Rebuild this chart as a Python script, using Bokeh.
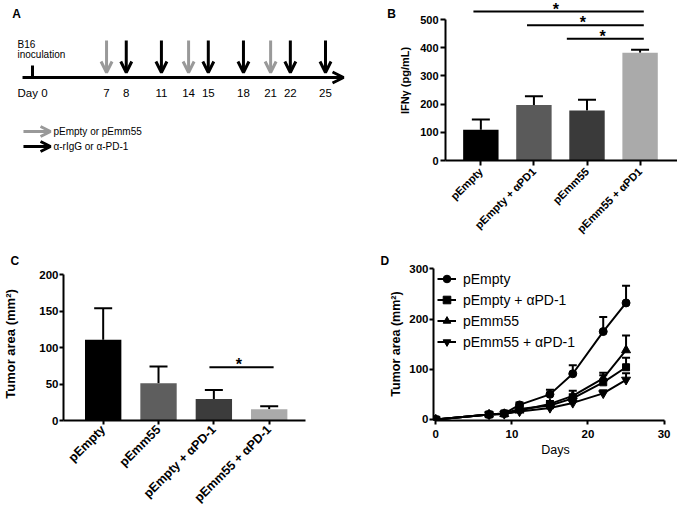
import math
from bokeh.plotting import figure
from bokeh.models import (ColumnDataSource, Range1d, FixedTicker, Whisker, TeeHead,
                          Label, Arrow, OpenHead, Legend, LegendItem)
from bokeh.layouts import column, row
from bokeh.embed import file_html
from bokeh.resources import INLINE
from bokeh.core.properties import value

FONT = "Liberation Sans"

# ---------------- Panel A: treatment schedule ----------------
a_days_vector = [7, 14, 21]                 # pEmpty or pEmm55
a_days_antibody = [8, 11, 15, 18, 22, 25]   # α-rIgG or α-PD-1
a_day_zero_label = "Day 0"
a_legend_text = ["pEmpty or pEmm55", "α-rIgG or α-PD-1"]
a_colors = ["#999999", "#000000"]

# ---------------- Panel B: IFNγ ----------------
b_groups = ["pEmpty", "pEmpty + αPD1", "pEmm55", "pEmm55 + αPD1"]
b_mean = [109, 197, 177, 382]
b_upper = [145, 228, 215, 393]
b_colors = ["#000000", "#5a5a5a", "#3a3a3a", "#aaaaaa"]
b_sig_start = [-0.14, 0.87, 1.62]
b_sig_end = [3.07, 3.07, 3.07]
b_sig_y = [528, 480, 432]
b_yticks = [0, 100, 200, 300, 400, 500]

# ---------------- Panel C: tumor area bars ----------------
c_groups = ["pEmpty", "pEmm55", "pEmpty + αPD-1", "pEmm55 + αPD-1"]
c_mean = [111, 51, 29.5, 15.5]
c_upper = [154, 74, 42, 19.5]
c_colors = ["#000000", "#5e5e5e", "#3c3c3c", "#aaaaaa"]
c_sig_start = [1.92]
c_sig_end = [3.08]
c_sig_y = [73]
c_yticks = [0, 50, 100, 150, 200]

# ---------------- Panel D: growth curves ----------------
d_days = [0, 7, 9, 11, 15, 18, 22, 25]
d_names = ["pEmpty", "pEmpty + αPD-1", "pEmm55", "pEmm55 + αPD-1"]
d_mean = [
    [0, 10, 12, 29, 50, 91, 175, 232],
    [0, 10, 12, 21, 28, 42, 74, 104],
    [0, 10, 11, 18, 31, 47, 82, 138],
    [0, 10, 11, 16, 23, 33, 52, 79],
]
d_upper = [
    [0, 11, 14, 34, 59, 108, 204, 266],
    [0, 11, 13, 25, 33, 50, 88, 123],
    [0, 11, 13, 21, 37, 57, 93, 167],
    [0, 11, 12, 18, 27, 38, 58, 92],
]
d_markers = ["circle", "square", "triangle", "inverted_triangle"]
d_sizes = [8, 7, 9, 9]
d_xticks = [0, 10, 20, 30]
d_yticks = [0, 100, 200, 300]


def base_fig(w, h, xr, yr, **kw):
    p = figure(width=w, height=h, x_range=xr, y_range=yr, output_backend="svg",
               toolbar_location=None, outline_line_color=None,
               background_fill_color="white", border_fill_color="white", **kw)
    p.grid.visible = False
    return p


def style_axis(ax, tick_size, label_size, tick_out=5, standoff=3, label_standoff=8,
               label_bold=True):
    ax.axis_line_width = 2
    ax.axis_line_color = "black"
    ax.major_tick_line_width = 2
    ax.major_tick_in = 0
    ax.major_tick_out = tick_out
    ax.minor_tick_line_color = None
    ax.major_label_text_font = FONT
    ax.major_label_text_font_style = "bold"
    ax.major_label_text_font_size = tick_size
    ax.major_label_text_color = "black"
    ax.major_label_standoff = standoff
    ax.axis_label_text_font = FONT
    ax.axis_label_text_font_style = "bold" if label_bold else "normal"
    ax.axis_label_text_font_size = label_size
    ax.axis_label_text_color = "black"
    ax.axis_label_standoff = label_standoff


def stars(p, starts, ends, ys, dy):
    for s, e, yv in zip(starts, ends, ys):
        p.add_layout(Label(x=(s + e) / 2 - 0.05, y=yv + dy, text="*", text_align="center",
                           text_baseline="middle", text_font=FONT,
                           text_font_style="bold", text_font_size="16px",
                           text_color="black"))


def panel_title(p, txt, offset):
    p.title.text = txt
    p.title.align = "left"
    p.title.offset = offset
    p.title.standoff = 0
    p.title.text_font = FONT
    p.title.text_font_size = "12px"
    p.title.text_font_style = "bold"
    p.title.text_color = "black"


# ======== A (frame aligned with B's frame: 0..160 px) ========
A_X0, A_PX = 28.0, 11.72          # px position of day 0, px per day
A_W = 396
A_SHIFT = 4.0 / A_PX              # +-4 px separation between paired arrows
pa = base_fig(A_W, 250, Range1d(-A_X0 / A_PX, (A_W - A_X0) / A_PX), Range1d(160, 0),
              min_border_left=0, min_border_right=0, min_border_top=0,
              min_border_bottom=90, x_axis_location=None, y_axis_location=None)
pa.extra_x_ranges = {
    "vec": Range1d(-A_X0 / A_PX + A_SHIFT, (A_W - A_X0) / A_PX + A_SHIFT),
    "ab": Range1d(-A_X0 / A_PX - A_SHIFT, (A_W - A_X0) / A_PX - A_SHIFT),
}
pa.add_layout(Arrow(x_start=-0.51, y_start=77, x_end=26.88, y_end=77, line_width=3,
                    end=OpenHead(size=11, line_width=3)))
pa.segment(x0=[0], y0=[65], x1=[0], y1=[77], line_width=3, line_color="black",
           x_range_name="ab")
pa.text(x=[0], y=[92], text=[a_day_zero_label], text_align="center",
        text_baseline="middle", text_font=value(FONT), text_font_size="11.5px",
        text_color="black", x_range_name="ab")
for days, col, rng in [(a_days_vector, a_colors[0], "vec"),
                       (a_days_antibody, a_colors[1], "ab")]:
    src = ColumnDataSource(dict(x=days, y0=[40] * len(days), y1=[72] * len(days),
                                lab=[str(d) for d in days], ly=[92] * len(days)))
    pa.add_layout(Arrow(source=src, x_start="x", y_start="y0", x_end="x", y_end="y1",
                        line_width=3, line_color=col, x_range_name=rng,
                        end=OpenHead(size=11, line_width=3, line_color=col)))
    pa.text(x="x", y="ly", text="lab", source=src, text_align="center",
            text_baseline="middle", text_font=value(FONT), text_font_size="11.5px",
            text_color="black", x_range_name=rng)
pa.text(x=[-0.94, -0.94], y=[43.5, 53.5], text=["B16", "inoculation"],
        text_align="left", text_baseline="middle", text_font=value(FONT),
        text_font_size="10px", text_color="black")
for i, (txt, col) in enumerate(zip(a_legend_text, a_colors)):
    yy = 131 + 15 * i
    pa.add_layout(Arrow(x_start=-0.43, y_start=yy, x_end=1.88, y_end=yy, line_width=3,
                        line_color=col, end=OpenHead(size=10, line_width=3, line_color=col)))
    pa.text(x=[2.13], y=[yy], text=[txt], text_align="left", text_baseline="middle",
            text_font=value(FONT), text_font_size="10px", text_color="black")
# panel letters "A" and "B" (B sits in the gap left of panel B's axis)
pa.text(x=[(16 - A_X0) / A_PX, (391 - A_X0) / A_PX], y=[13, 13], text=["A", "B"],
        text_align="center", text_baseline="middle", text_font=value(FONT),
        text_font_size="12px", text_font_style="bold", text_color="black")

# ======== B ========
pb = base_fig(677 - A_W, 250, Range1d(-0.666, 3.705), Range1d(0, 567.4),
              min_border_left=48, min_border_right=0, min_border_top=0,
              min_border_bottom=90)
xb = list(range(len(b_groups)))
srcb = ColumnDataSource(dict(x=xb, top=b_mean, upper=b_upper, color=b_colors))
pb.vbar(x="x", top="top", width=0.667, fill_color="color", line_color=None, source=srcb)
pb.add_layout(Whisker(source=srcb, base="x", lower="top", upper="upper",
                      dimension="height", line_width=2, line_color="black",
                      upper_head=TeeHead(size=18, line_width=2, line_color="black"),
                      lower_head=None))
pb.segment(x0=b_sig_start, x1=b_sig_end, y0=b_sig_y, y1=b_sig_y, line_width=2,
           line_color="black")
stars(pb, b_sig_start, b_sig_end, b_sig_y, 9)
pb.yaxis.ticker = FixedTicker(ticks=b_yticks)
pb.yaxis.bounds = (0, 500)
pb.yaxis.axis_label = "IFNγ (pg/mL)"
style_axis(pb.yaxis[0], "11px", "11px", tick_out=5, standoff=2, label_standoff=6)
pb.xaxis.ticker = FixedTicker(ticks=xb)
pb.xaxis.major_label_overrides = {i: g for i, g in enumerate(b_groups)}
pb.xaxis.major_label_orientation = math.pi / 4
style_axis(pb.xaxis[0], "11px", "11px", tick_out=5, standoff=4)

# ======== C (frame 267..421 px, aligned with D) ========
pc = base_fig(340, 262, Range1d(-0.717, 3.656), Range1d(0, 210),
              min_border_left=61, min_border_right=35, min_border_top=17,
              min_border_bottom=91)
panel_title(pc, "C", -53)
xc = list(range(len(c_groups)))
srcc = ColumnDataSource(dict(x=xc, top=c_mean, upper=c_upper, color=c_colors))
pc.vbar(x="x", top="top", width=0.657, fill_color="color", line_color=None, source=srcc)
pc.add_layout(Whisker(source=srcc, base="x", lower="top", upper="upper",
                      dimension="height", line_width=2, line_color="black",
                      upper_head=TeeHead(size=18, line_width=2, line_color="black"),
                      lower_head=None))
pc.segment(x0=c_sig_start, x1=c_sig_end, y0=c_sig_y, y1=c_sig_y, line_width=2,
           line_color="black")
stars(pc, c_sig_start, c_sig_end, c_sig_y, 3.4)
pc.yaxis.ticker = FixedTicker(ticks=c_yticks)
pc.yaxis.bounds = (0, 200)
pc.yaxis.axis_label = "Tumor area (mm²)"
style_axis(pc.yaxis[0], "11.5px", "13px", tick_out=4, standoff=1, label_standoff=18)
pc.xaxis.ticker = FixedTicker(ticks=xc)
pc.xaxis.major_label_overrides = {i: g for i, g in enumerate(c_groups)}
pc.xaxis.major_label_orientation = math.pi / 4
style_axis(pc.xaxis[0], "12.5px", "12px", tick_out=4, standoff=3)

# ======== D ========
pdd = base_fig(337, 262, Range1d(-0.3, 31.76), Range1d(-2, 302.5),
               min_border_left=93, min_border_right=0, min_border_top=17,
               min_border_bottom=91)
panel_title(pdd, "D", -53)
items = []
for name, m, u, mk, sz in zip(d_names, d_mean, d_upper, d_markers, d_sizes):
    src = ColumnDataSource(dict(x=d_days, y=m, upper=u))
    lr = pdd.line(x="x", y="y", source=src, line_width=2, line_color="black")
    sr = pdd.scatter(x="x", y="y", source=src, marker=mk, size=sz,
                     fill_color="black", line_color="black")
    pdd.add_layout(Whisker(source=src, base="x", lower="y", upper="upper",
                           dimension="height", line_width=2, line_color="black",
                           upper_head=TeeHead(size=8, line_width=2, line_color="black"),
                           lower_head=None))
    items.append(LegendItem(label=name, renderers=[lr, sr]))
leg = Legend(items=items, location=(4, 68), padding=0, margin=0, spacing=0,
             label_height=21, glyph_height=21, glyph_width=19, label_standoff=7,
             label_text_font=FONT, label_text_font_size="14px",
             label_text_color="black",
             background_fill_alpha=0, border_line_color=None)
pdd.add_layout(leg)
pdd.xaxis.ticker = FixedTicker(ticks=d_xticks)
pdd.xaxis.bounds = (0, 30)
pdd.xaxis.axis_label = "Days"
style_axis(pdd.xaxis[0], "11.5px", "12.5px", tick_out=4, standoff=5, label_standoff=2,
           label_bold=False)
pdd.yaxis.ticker = FixedTicker(ticks=d_yticks)
pdd.yaxis.bounds = (0, 300)
pdd.yaxis.axis_label = "Tumor area (mm²)"
style_axis(pdd.yaxis[0], "11.5px", "12.5px", tick_out=4, standoff=1, label_standoff=3)

layout = column(row(pa, pb), row(pc, pdd))
open("out.html", "w").write(file_html(layout, INLINE))
